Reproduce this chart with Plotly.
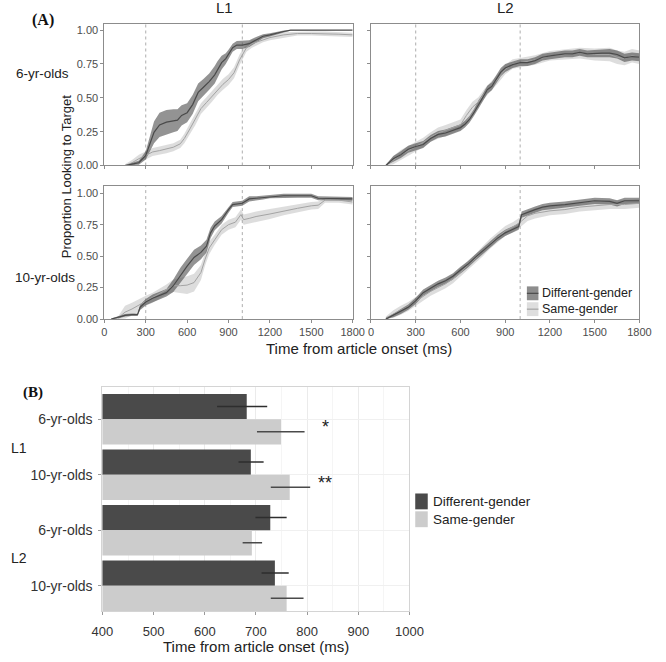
import plotly.graph_objects as go

W, H = 666, 662
SANS = "Liberation Sans, Arial, sans-serif"
SERIF = "Liberation Serif, Times New Roman, serif"

# ---------------- Panel A data (time course) ----------------
time_ticks = [0, 300, 600, 900, 1200, 1500, 1800]
prop_ticks = [0, 0.25, 0.5, 0.75, 1.0]
marker_times = [300, 1000]

# L1, 6-yr-olds
l1_6_diff_t = [100, 150, 200, 250, 300, 330, 360, 400, 450, 500, 530, 560, 600, 640, 680, 720, 760, 800, 820, 850,
               880, 900, 930, 960, 1000, 1050, 1100, 1150, 1200, 1250, 1300, 1350, 1800]
l1_6_diff_m = [0, 0, 0.01, 0.02, 0.075, 0.16, 0.245, 0.30, 0.32, 0.33, 0.335, 0.37, 0.39, 0.45, 0.54, 0.58, 0.62, 0.67,
               0.71, 0.76, 0.79, 0.82, 0.87, 0.89, 0.89, 0.90, 0.93, 0.955, 0.965, 0.98, 0.99, 1.0, 1.0]
l1_6_diff_se = [0, 0, 0.01, 0.015, 0.03, 0.06, 0.08, 0.09, 0.09, 0.085, 0.08, 0.075, 0.07, 0.07, 0.065, 0.06, 0.06,
                0.065, 0.06, 0.05, 0.04, 0.035, 0.03, 0.03, 0.03, 0.025, 0.02, 0.015, 0.012, 0.01, 0.008, 0.005, 0.005]
l1_6_same_t = [150, 200, 250, 300, 350, 400, 450, 500, 550, 580, 620, 660, 700, 740, 780, 820, 860, 900, 940, 980,
               1000, 1030, 1070, 1100, 1150, 1200, 1300, 1400, 1500, 1600, 1700, 1800]
l1_6_same_m = [0, 0.02, 0.05, 0.075, 0.10, 0.11, 0.12, 0.135, 0.16, 0.20, 0.27, 0.34, 0.42, 0.465, 0.51, 0.56, 0.60,
               0.635, 0.685, 0.78, 0.82, 0.87, 0.90, 0.91, 0.93, 0.945, 0.965, 0.975, 0.975, 0.975, 0.97, 0.965]
l1_6_same_se = [0.01, 0.02, 0.03, 0.03, 0.03, 0.03, 0.03, 0.03, 0.03, 0.035, 0.04, 0.04, 0.04, 0.04, 0.04, 0.04, 0.04,
                0.04, 0.04, 0.04, 0.035, 0.03, 0.03, 0.025, 0.02, 0.02, 0.02, 0.015, 0.015, 0.015, 0.015, 0.015]

# L2, 6-yr-olds
l2_6_diff_t = [100, 150, 200, 250, 300, 350, 400, 450, 500, 550, 600, 630, 660, 690, 720, 750, 780, 810, 840, 870,
               900, 950, 1000, 1050, 1100, 1150, 1200, 1250, 1300, 1350, 1400, 1450, 1500, 1550, 1600, 1650, 1700,
               1750, 1800]
l2_6_diff_m = [0, 0.05, 0.08, 0.12, 0.14, 0.155, 0.20, 0.23, 0.24, 0.26, 0.28, 0.305, 0.34, 0.39, 0.45, 0.50, 0.56,
               0.585, 0.635, 0.69, 0.72, 0.745, 0.76, 0.76, 0.775, 0.80, 0.81, 0.82, 0.825, 0.825, 0.835, 0.825, 0.83,
               0.83, 0.83, 0.82, 0.795, 0.805, 0.80]
l2_6_diff_se = [0.005, 0.02, 0.025, 0.025, 0.025, 0.025, 0.025, 0.025, 0.025, 0.025, 0.025, 0.025, 0.025, 0.025,
                0.03, 0.03, 0.03, 0.03, 0.03, 0.03, 0.03, 0.025, 0.025, 0.025, 0.025, 0.025, 0.025, 0.025, 0.025,
                0.025, 0.025, 0.025, 0.025, 0.03, 0.03, 0.03, 0.03, 0.03, 0.03]
l2_6_same_t = [100, 150, 200, 250, 300, 350, 400, 450, 500, 550, 600, 640, 680, 720, 760, 800, 850, 900, 950, 1000,
               1100, 1200, 1300, 1400, 1500, 1600, 1650, 1700, 1750, 1800]
l2_6_same_m = [0, 0.04, 0.08, 0.11, 0.14, 0.17, 0.21, 0.24, 0.26, 0.28, 0.30, 0.37, 0.43, 0.47, 0.53, 0.58, 0.64,
               0.71, 0.75, 0.76, 0.78, 0.81, 0.82, 0.83, 0.82, 0.82, 0.80, 0.79, 0.81, 0.80]
l2_6_same_se = [0.01, 0.03, 0.035, 0.035, 0.035, 0.035, 0.035, 0.04, 0.04, 0.04, 0.04, 0.04, 0.04, 0.035, 0.035,
                0.035, 0.035, 0.035, 0.035, 0.035, 0.035, 0.035, 0.035, 0.04, 0.045, 0.05, 0.05, 0.05, 0.05, 0.05]

# L1, 10-yr-olds
l1_10_diff_t = [50, 100, 150, 200, 240, 260, 300, 350, 400, 450, 500, 550, 600, 650, 700, 740, 770, 800, 850, 900,
                930, 1000, 1050, 1100, 1150, 1200, 1300, 1400, 1500, 1550, 1600, 1700, 1800]
l1_10_diff_m = [0, 0.015, 0.03, 0.035, 0.035, 0.095, 0.135, 0.165, 0.185, 0.21, 0.265, 0.345, 0.42, 0.49, 0.53, 0.58,
                0.685, 0.74, 0.79, 0.87, 0.91, 0.92, 0.955, 0.96, 0.965, 0.975, 0.98, 0.98, 0.98, 0.96, 0.96, 0.96,
                0.955]
l1_10_diff_se = [0.005, 0.01, 0.01, 0.01, 0.01, 0.02, 0.025, 0.03, 0.03, 0.03, 0.05, 0.06, 0.06, 0.06, 0.055, 0.05,
                 0.04, 0.035, 0.03, 0.025, 0.02, 0.02, 0.02, 0.015, 0.015, 0.015, 0.015, 0.015, 0.015, 0.015, 0.015,
                 0.015, 0.015]
l1_10_same_t = [100, 150, 200, 250, 300, 350, 400, 450, 500, 550, 600, 650, 700, 730, 760, 800, 850, 900, 950, 990,
                1010, 1050, 1100, 1200, 1300, 1400, 1500, 1550, 1600, 1700, 1800]
l1_10_same_m = [0.01, 0.055, 0.08, 0.11, 0.145, 0.17, 0.20, 0.235, 0.265, 0.265, 0.27, 0.29, 0.37, 0.475, 0.565, 0.63,
                0.71, 0.75, 0.77, 0.83, 0.79, 0.80, 0.815, 0.835, 0.86, 0.88, 0.90, 0.905, 0.945, 0.945, 0.93]
l1_10_same_se = [0.01, 0.05, 0.05, 0.05, 0.04, 0.04, 0.04, 0.04, 0.05, 0.06, 0.07, 0.07, 0.06, 0.05, 0.05, 0.04, 0.04,
                 0.04, 0.04, 0.04, 0.04, 0.04, 0.04, 0.04, 0.035, 0.03, 0.03, 0.03, 0.02, 0.02, 0.02]

# L2, 10-yr-olds
l2_10_diff_t = [100, 150, 200, 250, 300, 350, 400, 450, 500, 550, 600, 650, 700, 750, 800, 850, 900, 950, 990, 1010,
                1050, 1100, 1150, 1200, 1300, 1400, 1500, 1600, 1650, 1700, 1800]
l2_10_diff_m = [0, 0.03, 0.06, 0.095, 0.145, 0.21, 0.245, 0.28, 0.305, 0.34, 0.39, 0.435, 0.49, 0.54, 0.595, 0.645,
                0.685, 0.715, 0.735, 0.83, 0.85, 0.87, 0.89, 0.90, 0.91, 0.925, 0.94, 0.935, 0.92, 0.94, 0.94]
l2_10_diff_se = [0.005, 0.015, 0.02, 0.02, 0.025, 0.025, 0.025, 0.025, 0.025, 0.025, 0.025, 0.025, 0.025, 0.025,
                 0.025, 0.025, 0.025, 0.025, 0.025, 0.025, 0.025, 0.025, 0.025, 0.025, 0.025, 0.025, 0.025, 0.025,
                 0.025, 0.025, 0.025]
l2_10_same_t = [100, 150, 200, 250, 300, 350, 400, 450, 500, 550, 600, 650, 700, 750, 800, 850, 900, 950, 1000, 1050,
                1100, 1200, 1300, 1400, 1500, 1600, 1700, 1800]
l2_10_same_m = [0.01, 0.04, 0.07, 0.10, 0.14, 0.18, 0.22, 0.25, 0.28, 0.32, 0.37, 0.43, 0.48, 0.54, 0.60, 0.65, 0.70,
                0.73, 0.77, 0.82, 0.84, 0.86, 0.87, 0.89, 0.90, 0.91, 0.91, 0.92]
l2_10_same_se = [0.01, 0.03, 0.035, 0.035, 0.035, 0.035, 0.035, 0.035, 0.035, 0.035, 0.035, 0.035, 0.035, 0.04, 0.04,
                 0.04, 0.04, 0.04, 0.04, 0.04, 0.04, 0.035, 0.035, 0.035, 0.035, 0.035, 0.035, 0.035]

# ---------------- Panel B data (bars) ----------------
bar_labels = ["6-yr-olds", "10-yr-olds", "6-yr-olds", "10-yr-olds"]
lang_labels = ["L1", "L2"]
diff_rt = [682, 690, 728, 737]
diff_lo = [624, 666, 699, 711]
diff_hi = [722, 715, 760, 764]
same_rt = [749, 766, 692, 760]
same_lo = [702, 729, 674, 729]
same_hi = [795, 806, 712, 793]
sig_labels = ["*", "**"]
sig_x = 835
rt_ticks = [400, 500, 600, 700, 800, 900, 1000]

series_names = ["Different-gender", "Same-gender"]

# ---------------- styling ----------------
DARK_FILL = "rgba(80,80,80,0.62)"
DARK_LINE = "#4a4a4a"
LIGHT_FILL = "rgba(175,175,175,0.42)"
LIGHT_LINE = "#a3a3a3"
BAR_DARK = "#4a4a4a"
BAR_LIGHT = "#cccccc"


def px(x):
    return x / W


def py(y):
    return 1 - y / H


fig = go.Figure()

panels = [
    ("x", "y", l1_6_same_t, l1_6_same_m, l1_6_same_se, l1_6_diff_t, l1_6_diff_m, l1_6_diff_se),
    ("x2", "y2", l2_6_same_t, l2_6_same_m, l2_6_same_se, l2_6_diff_t, l2_6_diff_m, l2_6_diff_se),
    ("x3", "y3", l1_10_same_t, l1_10_same_m, l1_10_same_se, l1_10_diff_t, l1_10_diff_m, l1_10_diff_se),
    ("x4", "y4", l2_10_same_t, l2_10_same_m, l2_10_same_se, l2_10_diff_t, l2_10_diff_m, l2_10_diff_se),
]


def ribbon(t, m, se, xa, ya, fill):
    up = [min(a + b, 1.0) for a, b in zip(m, se)]
    lo = [max(a - b, 0.0) for a, b in zip(m, se)]
    return go.Scatter(x=list(t) + list(t)[::-1], y=up + lo[::-1], xaxis=xa, yaxis=ya, fill="toself",
                      fillcolor=fill, line=dict(width=0), mode="lines", showlegend=False, hoverinfo="skip")


for xa, ya, st, sm, ss, dt, dm, ds in panels:
    fig.add_trace(ribbon(st, sm, ss, xa, ya, LIGHT_FILL))
    fig.add_trace(ribbon(dt, dm, ds, xa, ya, DARK_FILL))
    fig.add_trace(go.Scatter(x=st, y=sm, xaxis=xa, yaxis=ya, mode="lines", line=dict(color=LIGHT_LINE, width=1),
                             showlegend=False, name=series_names[1]))
    fig.add_trace(go.Scatter(x=dt, y=dm, xaxis=xa, yaxis=ya, mode="lines", line=dict(color=DARK_LINE, width=1.2),
                             showlegend=False, name=series_names[0]))

# bars (panel B)
cat_pos = list(range(len(bar_labels)))
fig.add_trace(go.Bar(
    x=diff_rt, y=cat_pos, orientation="h", xaxis="x5", yaxis="y5", marker=dict(color=BAR_DARK, line=dict(width=0)),
    name=series_names[0], showlegend=False,
    error_x=dict(type="data", symmetric=False, array=[h - v for h, v in zip(diff_hi, diff_rt)],
                 arrayminus=[v - l for v, l in zip(diff_rt, diff_lo)], color="#2e2e2e", thickness=1.5, width=0)))
fig.add_trace(go.Bar(
    x=same_rt, y=cat_pos, orientation="h", xaxis="x5", yaxis="y5", marker=dict(color=BAR_LIGHT, line=dict(width=0)),
    name=series_names[1], showlegend=False,
    error_x=dict(type="data", symmetric=False, array=[h - v for h, v in zip(same_hi, same_rt)],
                 arrayminus=[v - l for v, l in zip(same_rt, same_lo)], color="#4a4a4a", thickness=1.5, width=0)))

# axes
A_LINE = "#8c8c8c"
a_tickfont = dict(family=SANS, size=11, color="#4d4d4d")
xdom_l = [px(97), px(355)]
xdom_r = [px(374), px(653)]
ydom_t = [py(167), py(24)]
ydom_b = [py(322), py(188)]


def a_xaxis(dom, anchor, labels):
    return dict(domain=dom, anchor=anchor, range=[0, 1800], tickvals=time_ticks, showticklabels=labels,
                ticks="outside", ticklen=3, tickcolor=A_LINE, showline=True, linecolor=A_LINE, linewidth=1,
                mirror=True, showgrid=False, zeroline=False, tickfont=a_tickfont)


def a_yaxis(dom, anchor, labels, top):
    return dict(domain=dom, anchor=anchor, range=[0, top], tickvals=prop_ticks, tickformat=".2f",
                showticklabels=labels, ticks="outside", ticklen=3, tickcolor=A_LINE, showline=True,
                linecolor=A_LINE, linewidth=1, mirror=True, showgrid=False, zeroline=False, tickfont=a_tickfont)


fig.update_layout(
    xaxis=a_xaxis(xdom_l, "y", False),
    yaxis=a_yaxis(ydom_t, "x", True, 1.047),
    xaxis2=a_xaxis(xdom_r, "y2", False),
    yaxis2=a_yaxis(ydom_t, "x2", False, 1.047),
    xaxis3=a_xaxis(xdom_l, "y3", True),
    yaxis3=a_yaxis(ydom_b, "x3", True, 1.055),
    xaxis4=a_xaxis(xdom_r, "y4", True),
    yaxis4=a_yaxis(ydom_b, "x4", False, 1.055),
    xaxis5=dict(domain=[px(95), px(414)], anchor="y5", range=[400, 1000], tickvals=rt_ticks, ticks="outside",
                ticklen=3, tickcolor="#9a9a9a", showline=True, linecolor="#d4d4d4", linewidth=1, mirror=True,
                showgrid=True, gridcolor="#ebebeb", gridwidth=1, zeroline=False,
                minor=dict(dtick=50, tick0=450, showgrid=True, gridcolor="#f5f5f5", ticks=""),
                tickfont=dict(family=SANS, size=13, color="#333333"), ticklabelstandoff=5),
    yaxis5=dict(domain=[py(617), py(391)], anchor="x5", range=[3.464, -0.571], tickvals=cat_pos,
                ticktext=bar_labels, ticks="outside", ticklen=3, tickcolor="#9a9a9a", showline=True,
                linecolor="#d4d4d4", linewidth=1, mirror=True, showgrid=True, gridcolor="#f0f0f0",
                zeroline=False, tickfont=dict(family=SANS, size=14, color="#333333"), ticklabelstandoff=3),
    barmode="group", bargap=0.09, bargroupgap=0,
    width=W, height=H, margin=dict(l=0, r=0, t=0, b=0),
    paper_bgcolor="white", plot_bgcolor="white", showlegend=False,
    font=dict(family=SANS, color="#222222"),
)

# reference lines at marker times
shapes = []
for xa, ya in [("x", "y"), ("x2", "y2"), ("x3", "y3"), ("x4", "y4")]:
    for mt in marker_times:
        shapes.append(dict(type="line", xref=xa, yref=ya + " domain", x0=mt, x1=mt, y0=0, y1=1,
                           line=dict(color="#adadad", width=1, dash="3px,3px"), layer="below"))


# manual legends (swatches)
def sw(x0, x1, y0, y1, fill):
    return dict(type="rect", xref="paper", yref="paper", x0=px(x0), x1=px(x1), y0=py(y1), y1=py(y0),
                fillcolor=fill, line=dict(width=0))


def swline(x0, x1, y, col):
    return dict(type="line", xref="paper", yref="paper", x0=px(x0), x1=px(x1), y0=py(y), y1=py(y),
                line=dict(color=col, width=1.2))


shapes += [sw(536, 548, 289, 303, "#8d8d8d"), swline(536, 548, 296, DARK_LINE),
           sw(536, 548, 305, 319, "#dedede"), swline(536, 548, 312, LIGHT_LINE),
           sw(420, 433, 498, 514, BAR_DARK), sw(420, 433, 516, 532, BAR_LIGHT)]
fig.update_layout(shapes=shapes)


def ann(text, x, y, size, xanchor="center", family=SANS, bold=False, angle=0, color="#222222", align="center"):
    return dict(text=("<b>%s</b>" % text) if bold else text, x=px(x), y=py(y), xref="paper", yref="paper",
                xanchor=xanchor, yanchor="middle", showarrow=False, textangle=angle, align=align,
                font=dict(family=family, size=size, color=color))


annotations = [
    ann("(A)", 33, 20, 16, family=SERIF, bold=True, color="#111111"),
    ann("(B)", 23, 396, 15, family=SERIF, bold=True, color="#111111"),
    ann("L1", 222, 8, 15),
    ann("L2", 514, 8, 15),
    ann("6-yr-olds", 33, 74, 13.5),
    ann("10-yr-olds", 35, 280, 13.5),
    ann("Proportion Looking to Target", 58, 178, 13, angle=-90),
    ann("Time from article onset (ms)", 362, 352, 15),
    ann("Time from article onset (ms)", 255, 652, 15),
    ann(lang_labels[0], 8, 452, 14),
    ann(lang_labels[1], 8, 563, 14),
    ann("<br>".join(series_names), 550, 304, 12.5, xanchor="left", align="left"),
    ann("<br>".join(series_names), 436, 515, 13.5, xanchor="left", align="left"),
]
for i, lab in enumerate(sig_labels):
    annotations.append(dict(text=lab, x=sig_x, y=i, xref="x5", yref="y5", showarrow=False, yshift=-8,
                            font=dict(family=SANS, size=18, color="#222222")))
fig.update_layout(annotations=annotations)

fig.write_html("out.html", config={"displayModeBar": False},
               post_script="document.body.style.margin='0';document.body.style.padding='0';")
